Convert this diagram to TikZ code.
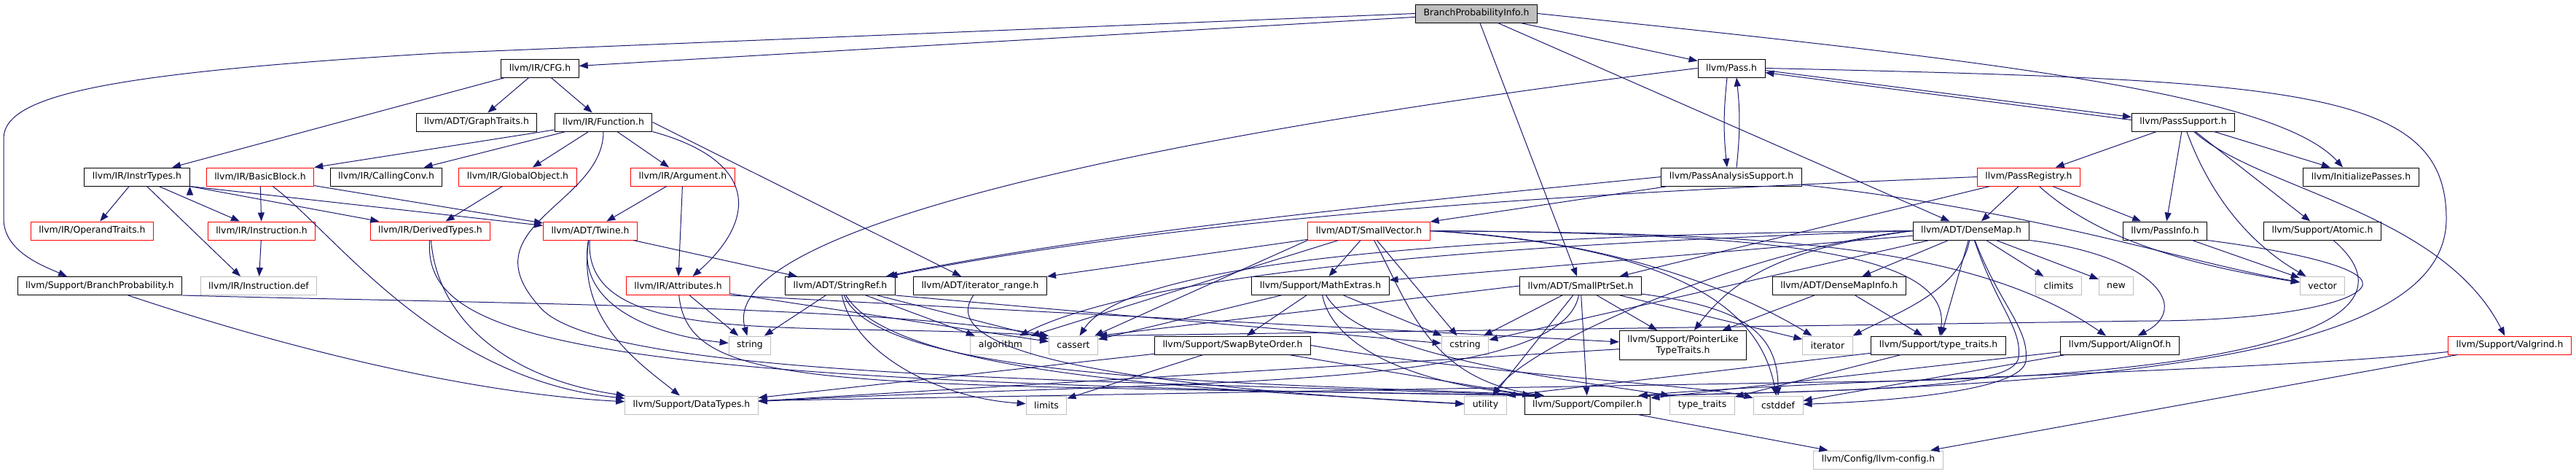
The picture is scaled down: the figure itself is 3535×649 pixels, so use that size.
\documentclass[tikz,border=0pt]{standalone}
\usepackage{fontspec}
\setmainfont{DejaVu Sans}
\usepackage{xcolor}
\usepackage{tikz}
\usetikzlibrary{arrows.meta}

\definecolor{edgeblue}{HTML}{191970}
\definecolor{grey75}{HTML}{BFBFBF}

\begin{document}
\begin{tikzpicture}[x=1pt, y=-1pt,
  hdr/.style={draw=black, line width=1pt, font=\fontsize{12.44}{14.5}\selectfont,
              inner xsep=11pt, inner ysep=0pt, minimum height=25pt, align=center},
  trc/.style={hdr, draw=red},
  sys/.style={hdr, draw=grey75},
  root/.style={hdr, fill=grey75},
  inc/.style={-{Triangle[length=12pt, width=9pt]}, line width=1pt, edgeblue}]

\useasboundingbox (0,0) rectangle (3535,649);

% ---- the headers, row by row --------------------------------------------
\node[root] (BPI) at (2026,18.5) {BranchProbabilityInfo.h};
\node[hdr] (CFG) at (741,93.5) {llvm/IR/CFG.h};
\node[hdr] (PASS) at (2376,93.5) {llvm/Pass.h};
\node[hdr] (GT) at (654,167.5) {llvm/ADT/GraphTraits.h};
\node[hdr] (FN) at (828,167.5) {llvm/IR/Function.h};
\node[hdr] (PS) at (2996,167.5) {llvm/PassSupport.h};
\node[hdr] (IT) at (188,242.5) {llvm/IR/InstrTypes.h};
\node[trc] (BB) at (357,242.5) {llvm/IR/BasicBlock.h};
\node[hdr] (CC) at (530,242.5) {llvm/IR/CallingConv.h};
\node[trc] (GO) at (710.5,242.5) {llvm/IR/GlobalObject.h};
\node[trc] (ARG) at (937,242.5) {llvm/IR/Argument.h};
\node[hdr] (PAS) at (2376,242.5) {llvm/PassAnalysisSupport.h};
\node[trc] (PR) at (2784,242.5) {llvm/PassRegistry.h};
\node[hdr] (INIT) at (3240,242.5) {llvm/InitializePasses.h};
\node[trc] (OT) at (126.5,316.5) {llvm/IR/OperandTraits.h};
\node[trc] (INS) at (359,316.5) {llvm/IR/Instruction.h};
\node[trc] (DT) at (590.5,316.5) {llvm/IR/DerivedTypes.h};
\node[trc] (TW) at (810,316.5) {llvm/ADT/Twine.h};
\node[trc] (SV) at (1878.5,316.5) {llvm/ADT/SmallVector.h};
\node[hdr] (DM) at (2705,316.5) {llvm/ADT/DenseMap.h};
\node[hdr] (PI) at (2971,316.5) {llvm/PassInfo.h};
\node[hdr] (AT) at (3187,316.5) {llvm/Support/Atomic.h};
\node[hdr] (BP) at (137,392) {llvm/Support/BranchProbability.h};
\node[sys] (IDEF) at (355,392) {llvm/IR/Instruction.def};
\node[trc] (ATTR) at (930.5,392) {llvm/IR/Attributes.h};
\node[hdr] (SR) at (1153,392) {llvm/ADT/StringRef.h};
\node[hdr] (IR) at (1345,392) {llvm/ADT/iterator\_range.h};
\node[hdr] (ME) at (1812,392) {llvm/Support/MathExtras.h};
\node[hdr] (SPS) at (2169,392) {llvm/ADT/SmallPtrSet.h};
\node[hdr] (DMI) at (2524,392) {llvm/ADT/DenseMapInfo.h};
\node[sys] (CL) at (2825,392) {climits};
\node[sys] (NEW) at (2904,392) {new};
\node[sys] (VEC) at (3187,392) {vector};
\node[sys] (STR) at (1029,473.5) {string};
\node[sys] (ALG) at (1373,473.5) {algorithm};
\node[sys] (CA) at (1473,473.5) {cassert};
\node[hdr] (SBO) at (1691.5,473.5) {llvm/Support/SwapByteOrder.h};
\node[sys] (CS) at (2010.5,473.5) {cstring};
\node[hdr, minimum height=40pt] (PLT) at (2309.5,473.5) {llvm/Support/PointerLike\\TypeTraits.h};
\node[sys] (ITER) at (2508,473.5) {iterator};
\node[hdr] (TT) at (2660,473.5) {llvm/Support/type\_traits.h};
\node[hdr] (AO) at (2909,473.5) {llvm/Support/AlignOf.h};
\node[trc] (VG) at (3444,473.5) {llvm/Support/Valgrind.h};
\node[sys] (DTY) at (949,555.5) {llvm/Support/DataTypes.h};
\node[sys] (LIM) at (1436,555.5) {limits};
\node[sys] (UT) at (2038.5,555.5) {utility};
\node[hdr] (CMP) at (2178.5,555.5) {llvm/Support/Compiler.h};
\node[sys] (STT) at (2336,555.5) {type\_traits};
\node[sys] (CD) at (2440,555.5) {cstddef};
\node[sys] (CFGH) at (2577.5,630.5) {llvm/Config/llvm-config.h};

% ---- the analysis header ------------------------------------------------
\draw[inc] (BPI) edge (CFG) edge (PASS) edge (SPS) edge (DM);
\draw[inc] (BPI.west) -- (600,73) .. controls (150,100) and (5,130) .. (5,190)
  -- (5,300) .. controls (5,345) and (60,365) .. ([xshift=-45]BP.north);
\draw[inc] (BPI.east) .. controls (2700,80) and (3120,125) .. ([xshift=-25]INIT.north);

% ---- CFG and Function ---------------------------------------------------
\draw[inc] (CFG) edge (GT) edge (FN) edge (IT);
\draw[inc] (FN) edge (BB.north east) edge (CC) edge (GO) edge (ARG);
\draw[inc] (FN.east) -- (IR);
\draw[inc] (FN.south east) .. controls (1040,220) and (1040,300) .. ([xshift=20]ATTR.north);
\draw[inc] (FN) .. controls (828,280) and (640,310) .. (740,420)
  .. controls (820,520) and (1500,520) .. ([xshift=-60]CMP.north);

% ---- instructions and types ---------------------------------------------
\draw[inc] (IT) edge (OT) edge (INS);
\draw[inc] (IT.south east) edge (DT) edge (TW);
\draw[inc] (IT) -- ([xshift=-25]IDEF.north);
\draw[inc] (BB) edge (INS) edge (TW);
\draw[inc] (BB) .. controls (460,320) and (600,520) .. (DTY);
\draw[inc] (INS) edge (IDEF);
\draw[inc] (GO) edge (DT);
\draw[inc] (ARG) edge (TW) edge (ATTR);
\draw[inc] (DT) .. controls (600,440) and (700,520) .. (DTY);
\draw[inc] (DT) .. controls (580,470) and (800,525) .. ([xshift=-60]CMP.north);

% ---- Twine, Attributes, StringRef ---------------------------------------
\draw[inc] (TW) -- (SR);
\draw[inc] (TW) .. controls (790,420) and (900,460) .. (STR);
\draw[inc] (TW) .. controls (790,440) and (880,500) .. (DTY);
\draw[inc] (TW) .. controls (800,480) and (1100,440) .. (CA.north west);
\draw[inc] (ATTR) edge (STR) edge (CA);
\draw[inc] (ATTR.south east) -- (PLT);
\draw[inc] (ATTR) .. controls (945,540) and (1150,525) .. ([xshift=-60]CMP.north);
\draw[inc] (SR) edge (STR) edge (ALG) edge (CA);
\draw[inc] (SR.south east) -- (CS);
\draw[inc] (SR) .. controls (1170,480) and (1280,545) .. (LIM);
\draw[inc] (SR) .. controls (1230,520) and (1700,535) .. (UT);
\draw[inc] (SR) .. controls (1210,530) and (1800,525) .. ([xshift=-60]CMP.north);
\draw[inc] (IR) .. controls (1290,470) and (1450,525) .. (UT);
\draw[inc] (BP) .. controls (400,480) and (650,540) .. (DTY);
\draw[inc] (BP.south east) .. controls (600,415) and (1200,418) .. (CA.north west);

% ---- SmallVector, MathExtras, SwapByteOrder -----------------------------
\draw[inc] (SV) edge (IR) edge (ME) edge (ALG) edge (CS);
\draw[inc] (SV.south west) -- (CA);
\draw[inc] (SV) .. controls (1935,420) and (1960,520) .. ([xshift=-60]CMP.north);
\draw[inc] (SV.east) .. controls (2400,320) and (2680,340) .. (TT);
\draw[inc] (SV.east) .. controls (2400,320) and (2700,330) .. (AO);
\draw[inc] (SV.east) .. controls (2250,330) and (2420,420) .. (ITER);
\draw[inc] (SV.east) .. controls (2350,340) and (2420,450) .. (CD);
\draw[inc] (ME) edge (SBO) edge (CA) edge (CS);
\draw[inc] (ME) .. controls (1830,480) and (1950,530) .. ([xshift=-60]CMP.north);
\draw[inc] (ME) .. controls (1870,490) and (2150,520) .. (STT.north west);
\draw[inc] (SBO) edge (DTY) edge (LIM) edge (CMP);
\draw[inc] (SBO.east) .. controls (2000,510) and (2350,530) .. (CD);

% ---- pointer sets, maps and the support headers -------------------------
\draw[inc] (SPS) edge (CS) edge (UT) edge (CMP) edge (PLT) edge (ITER);
\draw[inc] (SPS.west) -- (CA.north east);
\draw[inc] (SPS) .. controls (2140,540) and (1600,520) .. (DTY);
\draw[inc] (SPS) .. controls (2380,420) and (2440,450) .. (CD);
\draw[inc] (PLT) edge (DTY);
\draw[inc] (DMI) edge (PLT) edge (TT);
\draw[inc] (TT) edge (STT) edge (UT.north east);
\draw[inc] (AO) edge (CMP) edge (CD);
\draw[inc] (CMP) edge (CFGH);
\draw[inc] (VG) edge (CFGH);
\draw[inc] (VG) .. controls (3100,510) and (2500,520) .. ([xshift=70]CMP.north);
\draw[inc] (DM) edge (DMI) edge (CL) edge (NEW) edge (ME) edge (TT) edge (CS);
\draw[inc] (DM.south east) .. controls (2950,350) and (3010,420) .. (AO);
\draw[inc] (DM) .. controls (2740,420) and (2775,450) .. (2770,490)
  .. controls (2765,530) and (2600,535) .. ([xshift=70]CMP.north);
\draw[inc] (DM) .. controls (2745,420) and (2785,450) .. (2780,495)
  .. controls (2775,535) and (2600,550) .. (CD);
\draw[inc] (DM.west) .. controls (2450,340) and (2380,380) .. (PLT);
\draw[inc] (DM.west) .. controls (2200,330) and (1600,360) .. (ALG);
\draw[inc] (DM.west) .. controls (2200,320) and (1560,340) .. (CA);
\draw[inc] (DM) .. controls (2690,400) and (2600,430) .. (ITER.north east);
\draw[inc] (DM.west) .. controls (2400,340) and (2100,470) .. (UT);

% ---- the pass machinery -------------------------------------------------
\draw[inc] ([xshift=-6]PASS.south) to[bend right=6] ([xshift=-6]PAS.north);
\draw[inc] ([xshift=7]PAS.north) to[bend right=6] ([xshift=7]PASS.south);
\draw[inc] ([yshift=-3]PASS.east) -- ([yshift=7]PS.west);
\draw[inc] ([yshift=3]PS.west) -- ([yshift=-6]PASS.east);
\draw[inc] (PASS.west) .. controls (1700,170) and (980,300) .. (STR);
\draw[inc] (PASS.east) .. controls (3150,110) and (3357,120) .. (3357,300)
  .. controls (3357,470) and (3000,530) .. ([xshift=70]CMP.north);
\draw[inc] (PAS) edge (SV);
\draw[inc] (PAS.west) .. controls (1900,280) and (1500,320) .. (SR);
\draw[inc] (PAS) .. controls (2800,290) and (3000,360) .. (VEC);
\draw[inc] (PR) edge (DM) edge (PI) edge (SPS);
\draw[inc] (PR.west) .. controls (2300,260) and (1700,285) .. (SR);
\draw[inc] (PR) .. controls (2870,320) and (2980,360) .. (VEC);
\draw[inc] (PS) edge (PR) edge (PI) edge (AT) edge (INIT);
\draw[inc] (PS) .. controls (3030,260) and (3080,330) .. (VEC);
\draw[inc] (PS) .. controls (3100,260) and (3350,290) .. (VG);
\draw[inc] (PI) edge (VEC);
\draw[inc] (PI.south east) .. controls (3150,345) and (3260,370) .. (3240,395)
  .. controls (3220,420) and (3100,440) .. (2950,440) -- (CA.north east);
\draw[inc] (AT) .. controls (3330,440) and (3100,520) .. (2500,524) -- ([yshift=6]DTY.east);

\end{tikzpicture}
\end{document}
